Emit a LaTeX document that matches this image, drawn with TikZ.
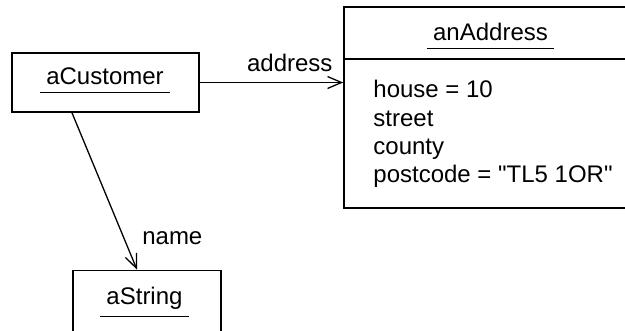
\documentclass[tikz,border=0pt]{standalone}
\usepackage{fontspec}
\setmainfont{Liberation Sans}[Ligatures=TeXOff]
\usetikzlibrary{positioning, arrows.meta}

\begin{document}
\begin{tikzpicture}[x=0.5pt, y=-0.5pt,
  every node/.style={font=\fontsize{12}{14.2}\selectfont},
  objbox/.style={draw, line width=0.85pt, inner sep=0pt},
  uname/.style={inner xsep=3pt, inner ysep=3.5pt, anchor=base},
  uline/.style={line width=0.85pt},
  attr/.style={inner sep=0pt, anchor=base west},
  assoc/.style={line width=0.65pt, -{Straight Barb[length=7pt, width=6pt]}}]

\useasboundingbox (0,0) rectangle (625,331);
\clip (0,0) rectangle (625,331);

% --- aCustomer ---
\node[objbox, minimum width=93.5pt, minimum height=29.5pt] (cust) at (105.5,82.5) {};
\node[uname] (custname) at (105,85) {aCustomer};
\draw[uline] (custname.south west) -- (custname.south east);

% --- anAddress (name + attributes) ---
\node[objbox, minimum width=170pt, minimum height=100.5pt] (addr) at (514,107.5) {};
\node[uname] (addrname) at (490.5,41) {anAddress};
\draw[uline] (addrname.south west) -- (addrname.south east);
\draw[uline] ([yshift=-26.5pt]addr.north west) -- ([yshift=-26.5pt]addr.north east); % divider
\node[attr] (house) at (373,98) {house = 10};
\node[attr] (street) at (373,127) {street};
\node[attr] (county) at (373,155) {county};
\node[attr] (postcode) at (373,183) {postcode = "TL5 1OR"};

% --- aString ---
\node[objbox, minimum width=74pt, minimum height=31pt] (str) at (147,301.5) {};
\node[uname] (strname) at (144.5,304) {aString};
\draw[uline] (strname.south west) -- (strname.south east);

% --- links ---
\draw[assoc] (cust.east) -- (cust.east -| addr.west) node[above left, inner sep=5pt] (addrlabel) {address};
\draw[assoc] ([xshift=-16.75pt]cust.south) -- ([xshift=-5pt]str.north) node[right=5.5pt, pos=0.8] (namelabel) {name};
\end{tikzpicture}
\end{document}
